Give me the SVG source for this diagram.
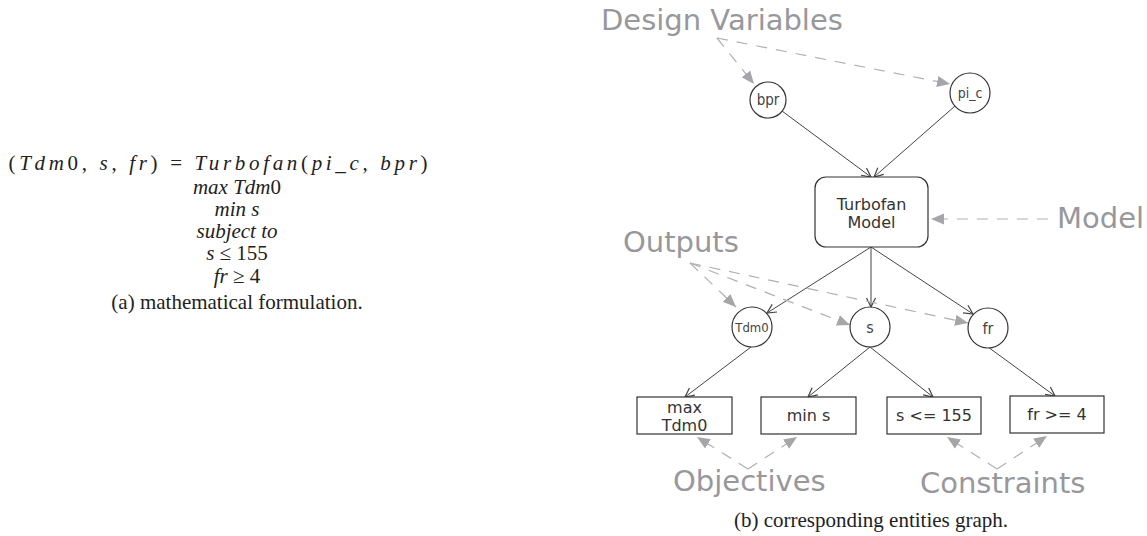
<svg xmlns="http://www.w3.org/2000/svg" width="1147" height="536" viewBox="0 0 1147 536">
<style>
.m{font-family:"Liberation Serif",serif;font-style:italic;font-size:21px;fill:#222;text-anchor:middle}
.u{font-style:normal}
.cap{font-family:"Liberation Serif",serif;font-size:21px;fill:#222;text-anchor:middle}
.lbl{font-family:"DejaVu Sans",sans-serif;font-size:29px;fill:#98989c}
.nd{fill:#fff;stroke:#333;stroke-width:1.2}
.nt{font-family:"DejaVu Sans",sans-serif;font-size:16px;fill:#333;text-anchor:middle}
.ct{font-family:"DejaVu Sans Condensed","DejaVu Sans",sans-serif;fill:#444;text-anchor:middle}
.e{stroke:#444;stroke-width:1;fill:none;marker-end:url(#ah)}
.d{stroke:#b0b0b2;stroke-width:1.2;fill:none;stroke-dasharray:11,9;marker-end:url(#dh)}
</style>
<defs>
<marker id="ah" markerUnits="userSpaceOnUse" markerWidth="12" markerHeight="12" viewBox="0 0 12 12" refX="10" refY="6" orient="auto">
<path d="M1,1.5 L10,6 L1,10.5" fill="none" stroke="#444" stroke-width="1.2"/>
</marker>
<marker id="dh" markerUnits="userSpaceOnUse" markerWidth="14" markerHeight="12" viewBox="0 0 14 12" refX="13" refY="6" orient="auto">
<path d="M0,0.5 L13,6 L0,11.5 z" fill="#a6a6aa"/>
</marker>
</defs>

<g id="formula">
<text class="m" x="218" y="170" textLength="419" lengthAdjust="spacing"><tspan class="u">(</tspan>Tdm<tspan class="u">0, </tspan>s<tspan class="u">, </tspan>fr<tspan class="u">) = </tspan>Turbofan<tspan class="u">(</tspan>pi_c<tspan class="u">, </tspan>bpr<tspan class="u">)</tspan></text>
<text class="m" x="237" y="194">max Tdm<tspan class="u">0</tspan></text>
<text class="m" x="237" y="216">min s</text>
<text class="m" x="237" y="238">subject to</text>
<text class="m" x="237" y="260">s<tspan class="u">&#160;≤&#160;155</tspan></text>
<text class="m" x="237" y="283">fr<tspan class="u">&#160;≥&#160;4</tspan></text>
<text class="cap" x="237" y="309">(a) mathematical formulation.</text>
</g>

<g id="connectors">
<line class="e" x1="782" y1="111" x2="871" y2="177"/>
<line class="e" x1="955" y1="106" x2="874" y2="177"/>
<line class="e" x1="871" y1="247" x2="767" y2="313"/>
<line class="e" x1="871" y1="247" x2="871" y2="307"/>
<line class="e" x1="871" y1="247" x2="973" y2="314"/>
<line class="e" x1="751" y1="347" x2="685" y2="397"/>
<line class="e" x1="870" y1="347" x2="808" y2="397"/>
<line class="e" x1="870" y1="347" x2="933" y2="397"/>
<line class="e" x1="988" y1="347" x2="1055" y2="396"/>
<line class="d" x1="717" y1="38" x2="754" y2="84"/>
<line class="d" x1="717" y1="38" x2="950" y2="84"/>
<line class="d" x1="1048" y1="219" x2="931" y2="219"/>
<line class="d" x1="690" y1="263" x2="736" y2="307"/>
<line class="d" x1="690" y1="263" x2="850" y2="325"/>
<line class="d" x1="690" y1="263" x2="968" y2="323"/>
<line class="d" x1="748" y1="469" x2="697" y2="437"/>
<line class="d" x1="748" y1="469" x2="797" y2="437"/>
<line class="d" x1="997" y1="469" x2="947" y2="437"/>
<line class="d" x1="997" y1="469" x2="1047" y2="436"/>
</g>

<g id="label-design-variables"><text class="lbl" x="601" y="30">Design Variables</text></g>
<g id="label-model"><text class="lbl" x="1057" y="228">Model</text></g>
<g id="label-outputs"><text class="lbl" x="623" y="252">Outputs</text></g>
<g id="label-objectives"><text class="lbl" x="673" y="491">Objectives</text></g>
<g id="label-constraints"><text class="lbl" x="920" y="493">Constraints</text></g>

<g id="node-bpr"><circle class="nd" cx="768" cy="100" r="18"/><text class="ct" x="768" y="105" font-size="15">bpr</text></g>
<g id="node-pi_c"><circle class="nd" cx="970" cy="93" r="20"/><text class="ct" x="970" y="98" font-size="14">pi_c</text></g>
<g id="node-turbofan"><rect class="nd" x="815" y="177" width="113" height="70" rx="11"/><text class="nt" x="871.5" y="210">Turbofan</text><text class="nt" x="871.5" y="228">Model</text></g>
<g id="node-tdm0"><circle class="nd" cx="752" cy="327" r="20"/><text class="ct" x="752" y="331.5" font-size="13">Tdm0</text></g>
<g id="node-s"><circle class="nd" cx="870" cy="327" r="20"/><text class="ct" x="870" y="332.5" font-size="16">s</text></g>
<g id="node-fr"><circle class="nd" cx="988" cy="328" r="20"/><text class="ct" x="988" y="333.5" font-size="16">fr</text></g>
<g id="node-max-tdm0"><rect class="nd" x="637" y="397" width="95" height="37"/><text class="nt" x="684.5" y="413">max</text><text class="nt" x="684.5" y="431">Tdm0</text></g>
<g id="node-min-s"><rect class="nd" x="761" y="397" width="95" height="37"/><text class="nt" x="808.5" y="421">min s</text></g>
<g id="node-s-le-155"><rect class="nd" x="887" y="397" width="94" height="37"/><text class="nt" x="934" y="421">s &lt;= 155</text></g>
<g id="node-fr-ge-4"><rect class="nd" x="1010" y="396" width="94" height="37"/><text class="nt" x="1057" y="420">fr &gt;= 4</text></g>

<g id="caption-b"><text class="cap" x="871" y="527">(b) corresponding entities graph.</text></g>
</svg>
